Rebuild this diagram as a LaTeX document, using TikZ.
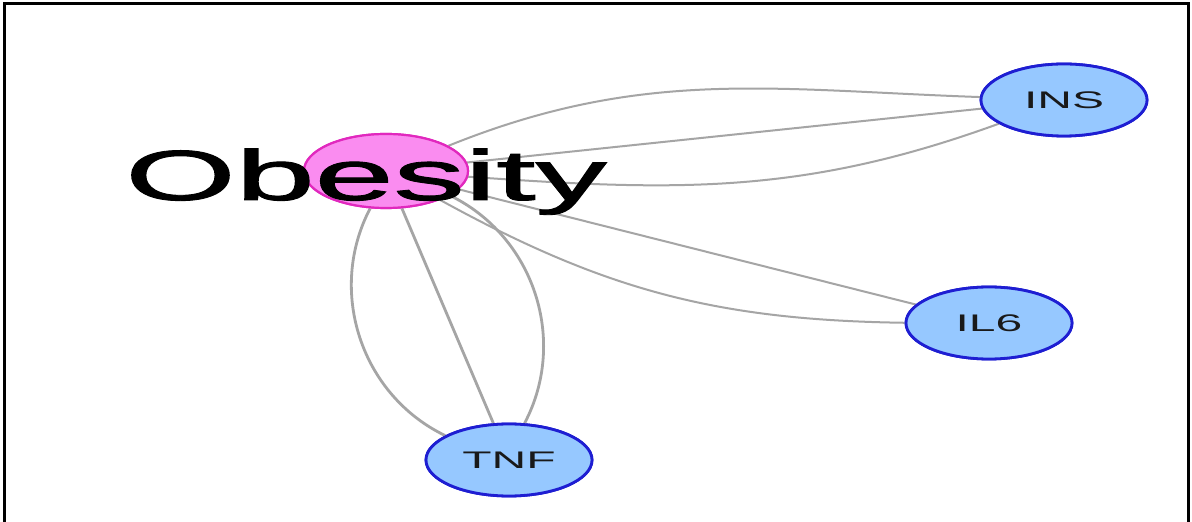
\documentclass[tikz,border=0pt]{standalone}
\usepackage{fontspec}
\setmainfont{Liberation Sans}
\newfontfamily\obfont[FakeBold=1.2]{Liberation Sans}
\usepackage{graphicx}
\usetikzlibrary{shapes.geometric}
\definecolor{nodeblue}{RGB}{150,200,255}
\definecolor{borderblue}{RGB}{30,30,210}
\definecolor{obpink}{RGB}{250,140,240}
\definecolor{obborder}{RGB}{225,40,190}
\definecolor{edgegray}{RGB}{165,165,165}
\newcommand{\widetext}[1]{\scalebox{2}[1]{#1}}
\begin{document}
\begin{tikzpicture}[x=1pt,y=1pt,
  gene/.style={ellipse, draw=borderblue, fill=nodeblue, line width=2.8pt,
    minimum width=166pt, minimum height=72pt, inner sep=0pt,
    text=black!90, font=\fontsize{24}{24}\selectfont},
  disease/.style={ellipse, draw=obborder, fill=obpink, line width=2.2pt,
    minimum width=164pt, minimum height=74pt, inner sep=0pt},
  edge/.style={draw=edgegray, line width=2pt},
  thickedge/.style={draw=edgegray, line width=2.8pt}]
\useasboundingbox (0,0) rectangle (1192,522);
\fill[white] (0,0) rectangle (1192,522);
\draw[line width=3pt, line cap=rect] (4,0) -- (4,518) -- (1188,518) -- (1188,0);

\coordinate (obc) at (386,351);
\coordinate (insc) at (1064,422);
\coordinate (il6c) at (989,199);
\coordinate (tnfc) at (509,62);

\node[disease] (ob) at (obc) {};
\node[gene] (ins) at (insc) {\widetext{INS}};
\node[gene] (il6) at (il6c) {\widetext{IL6}};
\node[gene] (tnf) at (tnfc) {\widetext{TNF}};

% edges
\path[edge] (ob) to[out=22, in=178] (ins);
\path[edge] (ob) -- (ins);
\path[edge] (ob) to[out=-4, in=200] (ins);
\path[edge] (ob) -- (il6);
\path[edge] (ob) to[bend right=14] (il6);
\path[thickedge] (ob) to[bend right=46] (tnf);
\path[thickedge] (ob) -- (tnf);
\path[thickedge] (ob) to[bend left=46] (tnf);

% redraw nodes on top of edges
\node[disease] at (obc) {};
\node[gene] at (insc) {\widetext{INS}};
\node[gene] at (il6c) {\widetext{IL6}};
\node[gene] at (tnfc) {\widetext{TNF}};

\node[anchor=base, inner sep=0pt, font=\obfont\fontsize{71}{71}\selectfont] (oblabel) at (366,322) {\widetext{Obesity}};
\end{tikzpicture}
\end{document}
